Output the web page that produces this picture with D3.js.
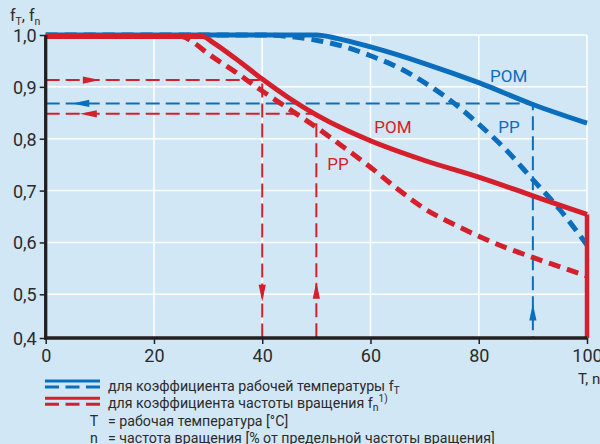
<!DOCTYPE html>
<html><head><meta charset="utf-8">
<script src="https://cdn.jsdelivr.net/npm/d3@7"></script>
<style>
html,body{margin:0;padding:0;background:#d2e7f6;}
svg{display:block;font-family:Roboto,"Noto Sans",sans-serif;}
</style></head>
<body>
<svg id="c" width="600" height="444"></svg>
<script>
// ---- data ----
const xTicks = [0, 20, 40, 60, 80, 100];
const yTicks = [0.4, 0.5, 0.6, 0.7, 0.8, 0.9, 1.0];
const yTickLabels = ["0,4", "0,5", "0,6", "0,7", "0,8", "0,9", "1,0"];
// temperature factor fT
const tempPOM = [[0,1],[50,1],[54,0.993],[60,0.977],[70,0.945],[80,0.908],[90,0.866],[100,0.83]];
const tempPP  = [[0,1],[40,1],[45,0.997],[50,0.99],[55,0.978],[60,0.96],[65,0.938],[70,0.908],[75,0.872],[80,0.828],[85,0.779],[90,0.721],[95,0.663],[100,0.595]];
// speed factor fn
const speedPOM = [[0,0.997],[29,0.997],[31,0.985],[35,0.955],[40,0.915],[45,0.878],[50,0.846],[55,0.819],[60,0.796],[70,0.758],[80,0.726],[90,0.69],[100,0.654]];
const speedPP  = [[0,0.997],[25,0.997],[27.5,0.984],[30,0.964],[35,0.929],[40,0.892],[45,0.857],[50,0.822],[55,0.784],[60,0.745],[65,0.703],[70,0.665],[75,0.637],[80,0.612],[85,0.59],[90,0.571],[95,0.553],[100,0.535]];
// example reading lines: [T, f]
const readRed1  = {T: 40, f: 0.913};
const readRed2  = {T: 50, f: 0.848};
const readBlue  = {T: 90, f: 0.868};
const curveLabels = [
  {text: "POM", T: 82.1, f: 0.909, series: "temp"},
  {text: "PP",  T: 83.6, f: 0.811, series: "temp"},
  {text: "POM", T: 60.7, f: 0.811, series: "speed"},
  {text: "PP",  T: 52.0, f: 0.740, series: "speed"}
];
const legendRows = [
  {main: "для коэффициента рабочей температуры f", sub: "T", sup: ""},
  {main: "для коэффициента частоты вращения f", sub: "n", sup: "1)"}
];
const symbolRows = [
  {sym: "T", text: "= рабочая температура [°C]"},
  {sym: "n", text: "= частота вращения [% от предельной частоты вращения]"}
];

// ---- styles ----
const BLUE = "#0a6ebd", RED = "#d5202b", AX = "#231f20", TXT = "#2b2b2b";

const svg = d3.select("#c");
const x = d3.scaleLinear().domain([0, 100]).range([45.7, 587]);
const y = d3.scaleLinear().domain([0.4, 0.5, 1.0]).range([338, 294.3, 35]);

// grid
const g = svg.append("g");
g.selectAll(".gy").data(yTicks.filter(d => d > 0.4)).enter().append("line")
  .attr("x1", x(0)).attr("x2", x(100)).attr("y1", d => y(d)).attr("y2", d => y(d))
  .attr("stroke", "#fff").attr("stroke-width", 1.5);
g.selectAll(".gx").data(xTicks.filter(d => d > 0)).enter().append("line")
  .attr("x1", d => x(d)).attr("x2", d => x(d)).attr("y1", y(1)).attr("y2", y(0.4))
  .attr("stroke", "#fff").attr("stroke-width", 1.5);

// axes
const xAxis = d3.axisBottom(x).tickValues(xTicks).tickSize(6).tickPadding(4).tickFormat(d3.format("d"));
const yAxis = d3.axisLeft(y).tickValues(yTicks).tickSize(6).tickPadding(3).tickFormat((d, i) => yTickLabels[i]);
const gx = svg.append("g").attr("transform", `translate(0,${y(0.4)})`).call(xAxis);
const gy = svg.append("g").attr("transform", `translate(${x(0)},0)`).call(yAxis);
[gx, gy].forEach(a => {
  a.select(".domain").remove();
  a.selectAll(".tick line").attr("stroke", AX).attr("stroke-width", 1.5);
  a.selectAll(".tick text").attr("fill", TXT).attr("font-size", 18).attr("font-family", "Roboto, sans-serif");
});
gx.selectAll(".tick text").attr("dy", "0.75em");
gy.selectAll(".tick text").attr("dy", "0.36em");

// reading lines
function readLines(r, color, dirH, dirV, arrH, arrV) {
  const gg = svg.append("g");
  gg.append("path").attr("d", `M${x(0)},${y(r.f)}H${x(r.T)}V${y(0.4)}`)
    .attr("fill", "none").attr("stroke", color).attr("stroke-width", 2).attr("stroke-dasharray", "14,6");
  const tx = x(arrH), ty = y(r.f), L = 17, W = 3.6;
  const bx = tx - dirH * L;
  gg.append("path").attr("d", `M${tx},${ty}L${bx},${ty - W}L${bx},${ty + W}Z`).attr("fill", color);
  const vx = x(r.T), vy = y(arrV);
  const by = vy - dirV * L;
  gg.append("path").attr("d", `M${vx},${vy}L${vx - W},${by}L${vx + W},${by}Z`).attr("fill", color);
}
readLines(readRed1, RED, 1, 1, 10, 0.483);
readLines(readRed2, RED, -1, -1, 6.3, 0.524);
readLines(readBlue, BLUE, -1, -1, 4.9, 0.479);

// curves
const line = d3.line().x(d => x(d[0])).y(d => y(d[1])).curve(d3.curveMonotoneX);
svg.append("path").datum(tempPOM).attr("d", line).attr("fill", "none").attr("stroke", BLUE).attr("stroke-width", 5);
svg.append("path").datum(tempPP).attr("d", line).attr("fill", "none").attr("stroke", BLUE).attr("stroke-width", 5).attr("stroke-dasharray", "12,7");
svg.append("path").datum(speedPP).attr("d", line).attr("fill", "none").attr("stroke", RED).attr("stroke-width", 5).attr("stroke-dasharray", "12,7");
svg.append("path").datum(speedPOM).attr("d", line).attr("fill", "none").attr("stroke", RED).attr("stroke-width", 5);
svg.append("line").attr("x1", x(100)).attr("x2", x(100))
  .attr("y1", y(speedPOM[speedPOM.length - 1][1])).attr("y2", y(0.4))
  .attr("stroke", RED).attr("stroke-width", 4.5);

// axis lines
svg.append("line").attr("x1", x(0)).attr("x2", x(0)).attr("y1", y(1)).attr("y2", y(0.4) + 1.6)
  .attr("stroke", AX).attr("stroke-width", 3.3);
svg.append("line").attr("x1", x(0) - 1.6).attr("x2", x(100)).attr("y1", y(0.4)).attr("y2", y(0.4))
  .attr("stroke", AX).attr("stroke-width", 3.3);

// curve labels
svg.selectAll(".cl").data(curveLabels).enter().append("text")
  .attr("x", d => x(d.T)).attr("y", d => y(d.f))
  .attr("fill", d => d.series === "temp" ? BLUE : RED)
  .attr("font-size", 17).text(d => d.text);

// axis titles
const yt = svg.append("text").attr("x", 10).attr("y", 21).attr("fill", TXT).attr("font-size", 16);
yt.append("tspan").text("f");
yt.append("tspan").attr("font-size", 10.5).attr("dy", 3.5).text("T");
yt.append("tspan").attr("dy", -3.5).text(", f");
yt.append("tspan").attr("font-size", 10.5).attr("dy", 3.5).text("n");
svg.append("text").attr("x", 578).attr("y", 384).attr("fill", TXT).attr("font-size", 15).text("T, n");

// legend
const lg = svg.append("g");
const symColors = [BLUE, RED];
const symY = [381, 398.3];
symY.forEach((yy, i) => {
  lg.append("line").attr("x1", 45).attr("x2", 100).attr("y1", yy).attr("y2", yy)
    .attr("stroke", symColors[i]).attr("stroke-width", 3);
  lg.append("line").attr("x1", 45).attr("x2", 100).attr("y1", yy + 6).attr("y2", yy + 6)
    .attr("stroke", symColors[i]).attr("stroke-width", 3).attr("stroke-dasharray", "14,6.5");
});
const rowBase = [390.7, 408.3, 426, 442.5];
const LF = 14.2;
legendRows.forEach((r, i) => {
  const t = lg.append("text").attr("x", 108).attr("y", rowBase[i]).attr("fill", TXT).attr("font-size", LF);
  t.append("tspan").text(r.main);
  t.append("tspan").attr("font-size", 10.5).attr("dy", 3).text(r.sub);
  if (r.sup) t.append("tspan").attr("font-size", 10).attr("dy", -9).text(r.sup);
});
symbolRows.forEach((r, i) => {
  lg.append("text").attr("x", 94).attr("y", rowBase[i + 2]).attr("text-anchor", "middle").attr("fill", TXT).attr("font-size", LF).text(r.sym);
  lg.append("text").attr("x", 108).attr("y", rowBase[i + 2]).attr("fill", TXT).attr("font-size", LF).text(r.text);
});
</script>
</body></html>
